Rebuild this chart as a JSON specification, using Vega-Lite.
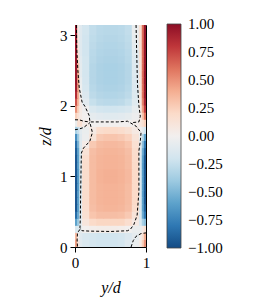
{
  "$schema": "https://vega.github.io/schema/vega-lite/v6.json",
  "autosize": "none",
  "width": 71,
  "height": 222,
  "padding": {"left": 75, "top": 25, "right": 115, "bottom": 52},
  "background": "white",
  "config": {
    "view": {"stroke": "black", "strokeWidth": 1},
    "font": "Liberation Serif",
    "axis": {"grid": false, "domain": false, "tickColor": "black", "tickSize": 5, "tickWidth": 1, "labelColor": "black", "labelFontSize": 15, "labelPadding": 3, "labelFlush": false, "titleColor": "black", "titleFontSize": 16, "titleFontStyle": "italic", "titleFontWeight": "normal", "labelAngle": 0},
    "legend": {"labelColor": "black", "labelFontSize": 15}
  },
  "datasets": {
    "field": [
      {"z0": 0, "z1": 0.1, "v": [0.45,0.1,-0.1,-0.15,-0.18,-0.2,-0.2,-0.2,-0.18,-0.12,-0.05,0.05,0.25,0.5], "y0": [0,0.03,0.06,0.1,0.2,0.3,0.4,0.5,0.6,0.7,0.8,0.9,0.94,0.97], "y1": [0.03,0.06,0.1,0.2,0.3,0.4,0.5,0.6,0.7,0.8,0.9,0.94,0.97,1]},
      {"z0": 0.1, "z1": 0.2, "v": [0.35,0.02,-0.12,-0.16,-0.18,-0.2,-0.2,-0.2,-0.18,-0.14,-0.08,0.02,0.15,0.4], "y0": [0,0.03,0.06,0.1,0.2,0.3,0.4,0.5,0.6,0.7,0.8,0.9,0.94,0.97], "y1": [0.03,0.06,0.1,0.2,0.3,0.4,0.5,0.6,0.7,0.8,0.9,0.94,0.97,1]},
      {"z0": 0.2, "z1": 0.3, "v": [-0.15,-0.15,-0.08,0,0.02,0.03,0.03,0.03,0.02,0,-0.05,-0.05,0.05,0.15], "y0": [0,0.03,0.06,0.1,0.2,0.3,0.4,0.5,0.6,0.7,0.8,0.9,0.94,0.97], "y1": [0.03,0.06,0.1,0.2,0.3,0.4,0.5,0.6,0.7,0.8,0.9,0.94,0.97,1]},
      {"z0": 0.3, "z1": 0.4, "v": [-0.6,-0.4,-0.1,0.1,0.2,0.22,0.22,0.22,0.22,0.17,0.06,-0.15,-0.35,-0.45], "y0": [0,0.03,0.06,0.1,0.2,0.3,0.4,0.5,0.6,0.7,0.8,0.9,0.94,0.97], "y1": [0.03,0.06,0.1,0.2,0.3,0.4,0.5,0.6,0.7,0.8,0.9,0.94,0.97,1]},
      {"z0": 0.4, "z1": 0.5, "v": [-0.85,-0.55,-0.15,0.15,0.3,0.33,0.33,0.33,0.32,0.28,0.12,-0.15,-0.55,-0.8], "y0": [0,0.03,0.06,0.1,0.2,0.3,0.4,0.5,0.6,0.7,0.8,0.9,0.94,0.97], "y1": [0.03,0.06,0.1,0.2,0.3,0.4,0.5,0.6,0.7,0.8,0.9,0.94,0.97,1]},
      {"z0": 0.5, "z1": 0.6, "v": [-0.95,-0.6,-0.15,0.17,0.33,0.36,0.37,0.37,0.36,0.33,0.18,-0.15,-0.6,-0.9], "y0": [0,0.03,0.06,0.1,0.2,0.3,0.4,0.5,0.6,0.7,0.8,0.9,0.94,0.97], "y1": [0.03,0.06,0.1,0.2,0.3,0.4,0.5,0.6,0.7,0.8,0.9,0.94,0.97,1]},
      {"z0": 0.6, "z1": 0.7, "v": [-0.95,-0.6,-0.15,0.18,0.34,0.37,0.38,0.38,0.37,0.34,0.2,-0.15,-0.6,-0.95], "y0": [0,0.03,0.06,0.1,0.2,0.3,0.4,0.5,0.6,0.7,0.8,0.9,0.94,0.97], "y1": [0.03,0.06,0.1,0.2,0.3,0.4,0.5,0.6,0.7,0.8,0.9,0.94,0.97,1]},
      {"z0": 0.7, "z1": 0.8, "v": [-0.95,-0.6,-0.15,0.18,0.34,0.37,0.38,0.38,0.37,0.34,0.2,-0.15,-0.62,-0.95], "y0": [0,0.03,0.06,0.1,0.2,0.3,0.4,0.5,0.6,0.7,0.8,0.9,0.94,0.97], "y1": [0.03,0.06,0.1,0.2,0.3,0.4,0.5,0.6,0.7,0.8,0.9,0.94,0.97,1]},
      {"z0": 0.8, "z1": 0.9, "v": [-0.95,-0.62,-0.15,0.18,0.34,0.37,0.38,0.38,0.37,0.34,0.2,-0.15,-0.62,-0.95], "y0": [0,0.03,0.06,0.1,0.2,0.3,0.4,0.5,0.6,0.7,0.8,0.9,0.94,0.97], "y1": [0.03,0.06,0.1,0.2,0.3,0.4,0.5,0.6,0.7,0.8,0.9,0.94,0.97,1]},
      {"z0": 0.9, "z1": 1.0, "v": [-0.95,-0.62,-0.15,0.18,0.34,0.38,0.39,0.39,0.38,0.35,0.2,-0.15,-0.62,-0.95], "y0": [0,0.03,0.06,0.1,0.2,0.3,0.4,0.5,0.6,0.7,0.8,0.9,0.94,0.97], "y1": [0.03,0.06,0.1,0.2,0.3,0.4,0.5,0.6,0.7,0.8,0.9,0.94,0.97,1]},
      {"z0": 1.0, "z1": 1.1, "v": [-0.95,-0.62,-0.15,0.18,0.34,0.38,0.39,0.39,0.38,0.35,0.2,-0.15,-0.62,-0.95], "y0": [0,0.03,0.06,0.1,0.2,0.3,0.4,0.5,0.6,0.7,0.8,0.9,0.94,0.97], "y1": [0.03,0.06,0.1,0.2,0.3,0.4,0.5,0.6,0.7,0.8,0.9,0.94,0.97,1]},
      {"z0": 1.1, "z1": 1.2, "v": [-0.95,-0.6,-0.15,0.18,0.34,0.37,0.38,0.38,0.37,0.34,0.2,-0.15,-0.62,-0.95], "y0": [0,0.03,0.06,0.1,0.2,0.3,0.4,0.5,0.6,0.7,0.8,0.9,0.94,0.97], "y1": [0.03,0.06,0.1,0.2,0.3,0.4,0.5,0.6,0.7,0.8,0.9,0.94,0.97,1]},
      {"z0": 1.2, "z1": 1.3, "v": [-0.95,-0.6,-0.15,0.17,0.34,0.37,0.38,0.38,0.37,0.34,0.19,-0.15,-0.6,-0.95], "y0": [0,0.03,0.06,0.1,0.2,0.3,0.4,0.5,0.6,0.7,0.8,0.9,0.94,0.97], "y1": [0.03,0.06,0.1,0.2,0.3,0.4,0.5,0.6,0.7,0.8,0.9,0.94,0.97,1]},
      {"z0": 1.3, "z1": 1.4, "v": [-0.92,-0.58,-0.15,0.13,0.33,0.36,0.37,0.37,0.36,0.33,0.18,-0.12,-0.55,-0.9], "y0": [0,0.03,0.06,0.1,0.2,0.3,0.4,0.5,0.6,0.7,0.8,0.9,0.94,0.97], "y1": [0.03,0.06,0.1,0.2,0.3,0.4,0.5,0.6,0.7,0.8,0.9,0.94,0.97,1]},
      {"z0": 1.4, "z1": 1.5, "v": [-0.85,-0.5,-0.12,0.04,0.28,0.34,0.35,0.35,0.34,0.3,0.15,-0.08,-0.45,-0.8], "y0": [0,0.03,0.06,0.1,0.2,0.3,0.4,0.5,0.6,0.7,0.8,0.9,0.94,0.97], "y1": [0.03,0.06,0.1,0.2,0.3,0.4,0.5,0.6,0.7,0.8,0.9,0.94,0.97,1]},
      {"z0": 1.5, "z1": 1.6, "v": [-0.7,-0.4,-0.12,-0.04,0.12,0.28,0.3,0.3,0.28,0.24,0.12,-0.03,-0.3,-0.6], "y0": [0,0.03,0.06,0.1,0.2,0.3,0.4,0.5,0.6,0.7,0.8,0.9,0.94,0.97], "y1": [0.03,0.06,0.1,0.2,0.3,0.4,0.5,0.6,0.7,0.8,0.9,0.94,0.97,1]},
      {"z0": 1.6, "z1": 1.7, "v": [-0.35,-0.25,-0.1,-0.05,0.06,0.18,0.2,0.2,0.18,0.14,0.06,0,-0.08,-0.2], "y0": [0,0.03,0.06,0.1,0.2,0.3,0.4,0.5,0.6,0.7,0.8,0.9,0.94,0.97], "y1": [0.03,0.06,0.1,0.2,0.3,0.4,0.5,0.6,0.7,0.8,0.9,0.94,0.97,1]},
      {"z0": 1.7, "z1": 1.8, "v": [-0.05,0.15,0.15,0.04,0,0,0,0,0,0,0.02,0.08,0.15,0.25], "y0": [0,0.03,0.06,0.1,0.2,0.3,0.4,0.5,0.6,0.7,0.8,0.9,0.94,0.97], "y1": [0.03,0.06,0.1,0.2,0.3,0.4,0.5,0.6,0.7,0.8,0.9,0.94,0.97,1]},
      {"z0": 1.8, "z1": 1.9, "v": [0.25,0.15,0.05,0,-0.08,-0.1,-0.11,-0.11,-0.1,-0.08,-0.04,0.05,0.3,0.6], "y0": [0,0.03,0.06,0.1,0.2,0.3,0.4,0.5,0.6,0.7,0.8,0.9,0.94,0.97], "y1": [0.03,0.06,0.1,0.2,0.3,0.4,0.5,0.6,0.7,0.8,0.9,0.94,0.97,1]},
      {"z0": 1.9, "z1": 2.0, "v": [0.5,0.25,0.06,-0.02,-0.15,-0.19,-0.2,-0.2,-0.19,-0.16,-0.07,0.08,0.45,0.8], "y0": [0,0.03,0.06,0.1,0.2,0.3,0.4,0.5,0.6,0.7,0.8,0.9,0.94,0.97], "y1": [0.03,0.06,0.1,0.2,0.3,0.4,0.5,0.6,0.7,0.8,0.9,0.94,0.97,1]},
      {"z0": 2.0, "z1": 2.1, "v": [0.7,0.35,0.04,-0.1,-0.24,-0.28,-0.29,-0.29,-0.28,-0.24,-0.11,0.1,0.55,0.9], "y0": [0,0.03,0.06,0.1,0.2,0.3,0.4,0.5,0.6,0.7,0.8,0.9,0.94,0.97], "y1": [0.03,0.06,0.1,0.2,0.3,0.4,0.5,0.6,0.7,0.8,0.9,0.94,0.97,1]},
      {"z0": 2.1, "z1": 2.2, "v": [0.85,0.4,0,-0.14,-0.28,-0.31,-0.32,-0.32,-0.31,-0.28,-0.13,0.12,0.6,0.95], "y0": [0,0.03,0.06,0.1,0.2,0.3,0.4,0.5,0.6,0.7,0.8,0.9,0.94,0.97], "y1": [0.03,0.06,0.1,0.2,0.3,0.4,0.5,0.6,0.7,0.8,0.9,0.94,0.97,1]},
      {"z0": 2.2, "z1": 2.3, "v": [0.92,0.45,-0.03,-0.17,-0.3,-0.33,-0.34,-0.34,-0.33,-0.3,-0.14,0.12,0.6,0.95], "y0": [0,0.03,0.06,0.1,0.2,0.3,0.4,0.5,0.6,0.7,0.8,0.9,0.94,0.97], "y1": [0.03,0.06,0.1,0.2,0.3,0.4,0.5,0.6,0.7,0.8,0.9,0.94,0.97,1]},
      {"z0": 2.3, "z1": 2.4, "v": [0.95,0.45,-0.05,-0.18,-0.31,-0.34,-0.35,-0.35,-0.34,-0.31,-0.14,0.12,0.62,0.97], "y0": [0,0.03,0.06,0.1,0.2,0.3,0.4,0.5,0.6,0.7,0.8,0.9,0.94,0.97], "y1": [0.03,0.06,0.1,0.2,0.3,0.4,0.5,0.6,0.7,0.8,0.9,0.94,0.97,1]},
      {"z0": 2.4, "z1": 2.5, "v": [0.95,0.4,-0.08,-0.19,-0.31,-0.34,-0.35,-0.35,-0.34,-0.31,-0.13,0.13,0.62,0.97], "y0": [0,0.03,0.06,0.1,0.2,0.3,0.4,0.5,0.6,0.7,0.8,0.9,0.94,0.97], "y1": [0.03,0.06,0.1,0.2,0.3,0.4,0.5,0.6,0.7,0.8,0.9,0.94,0.97,1]},
      {"z0": 2.5, "z1": 2.6, "v": [0.95,0.3,-0.09,-0.19,-0.31,-0.34,-0.35,-0.35,-0.34,-0.31,-0.13,0.13,0.62,0.97], "y0": [0,0.03,0.06,0.1,0.2,0.3,0.4,0.5,0.6,0.7,0.8,0.9,0.94,0.97], "y1": [0.03,0.06,0.1,0.2,0.3,0.4,0.5,0.6,0.7,0.8,0.9,0.94,0.97,1]},
      {"z0": 2.6, "z1": 2.7, "v": [0.95,0.2,-0.1,-0.19,-0.3,-0.33,-0.34,-0.34,-0.33,-0.3,-0.13,0.13,0.62,0.97], "y0": [0,0.03,0.06,0.1,0.2,0.3,0.4,0.5,0.6,0.7,0.8,0.9,0.94,0.97], "y1": [0.03,0.06,0.1,0.2,0.3,0.4,0.5,0.6,0.7,0.8,0.9,0.94,0.97,1]},
      {"z0": 2.7, "z1": 2.8, "v": [0.95,0.12,-0.12,-0.2,-0.29,-0.32,-0.33,-0.33,-0.32,-0.29,-0.11,0.14,0.62,0.97], "y0": [0,0.03,0.06,0.1,0.2,0.3,0.4,0.5,0.6,0.7,0.8,0.9,0.94,0.97], "y1": [0.03,0.06,0.1,0.2,0.3,0.4,0.5,0.6,0.7,0.8,0.9,0.94,0.97,1]},
      {"z0": 2.8, "z1": 2.9, "v": [0.95,0.1,-0.12,-0.2,-0.28,-0.31,-0.32,-0.32,-0.31,-0.28,-0.09,0.15,0.62,0.97], "y0": [0,0.03,0.06,0.1,0.2,0.3,0.4,0.5,0.6,0.7,0.8,0.9,0.94,0.97], "y1": [0.03,0.06,0.1,0.2,0.3,0.4,0.5,0.6,0.7,0.8,0.9,0.94,0.97,1]},
      {"z0": 2.9, "z1": 3.0, "v": [0.95,0.08,-0.12,-0.2,-0.27,-0.3,-0.31,-0.31,-0.3,-0.27,-0.07,0.15,0.62,0.97], "y0": [0,0.03,0.06,0.1,0.2,0.3,0.4,0.5,0.6,0.7,0.8,0.9,0.94,0.97], "y1": [0.03,0.06,0.1,0.2,0.3,0.4,0.5,0.6,0.7,0.8,0.9,0.94,0.97,1]},
      {"z0": 3.0, "z1": 3.1, "v": [0.95,0.06,-0.12,-0.19,-0.26,-0.29,-0.3,-0.3,-0.29,-0.26,-0.05,0.15,0.62,0.97], "y0": [0,0.03,0.06,0.1,0.2,0.3,0.4,0.5,0.6,0.7,0.8,0.9,0.94,0.97], "y1": [0.03,0.06,0.1,0.2,0.3,0.4,0.5,0.6,0.7,0.8,0.9,0.94,0.97,1]},
      {"z0": 3.1, "z1": 3.1416, "v": [0.95,0.05,-0.12,-0.19,-0.26,-0.29,-0.3,-0.3,-0.29,-0.26,-0.05,0.15,0.62,0.97], "y0": [0,0.03,0.06,0.1,0.2,0.3,0.4,0.5,0.6,0.7,0.8,0.9,0.94,0.97], "y1": [0.03,0.06,0.1,0.2,0.3,0.4,0.5,0.6,0.7,0.8,0.9,0.94,0.97,1]}
    ],
    "contours": [
      {"s": "a", "i": 0, "y": 0.02, "z": 3.1416},
      {"s": "a", "i": 1, "y": 0.025, "z": 2.8},
      {"s": "a", "i": 2, "y": 0.04, "z": 2.5},
      {"s": "a", "i": 3, "y": 0.06, "z": 2.25},
      {"s": "a", "i": 4, "y": 0.1, "z": 2.05},
      {"s": "a", "i": 5, "y": 0.14, "z": 1.99},
      {"s": "a", "i": 6, "y": 0.2, "z": 1.86},
      {"s": "a", "i": 7, "y": 0.21, "z": 1.77},
      {"s": "a", "i": 8, "y": 0.4, "z": 1.77},
      {"s": "a", "i": 9, "y": 0.6, "z": 1.77},
      {"s": "a", "i": 10, "y": 0.74, "z": 1.78},
      {"s": "a", "i": 11, "y": 0.86, "z": 1.71},
      {"s": "a", "i": 12, "y": 0.93, "z": 1.62},
      {"s": "a", "i": 13, "y": 0.92, "z": 1.5},
      {"s": "a", "i": 14, "y": 0.9, "z": 1.36},
      {"s": "a", "i": 15, "y": 0.9, "z": 1.0},
      {"s": "a", "i": 16, "y": 0.9, "z": 0.78},
      {"s": "a", "i": 17, "y": 0.875, "z": 0.45},
      {"s": "a", "i": 18, "y": 0.83, "z": 0.32},
      {"s": "a", "i": 19, "y": 0.78, "z": 0.25},
      {"s": "a", "i": 20, "y": 0.74, "z": 0.23},
      {"s": "a", "i": 21, "y": 0.5, "z": 0.22},
      {"s": "a", "i": 22, "y": 0.2, "z": 0.225},
      {"s": "a", "i": 23, "y": 0.1, "z": 0.23},
      {"s": "a", "i": 24, "y": 0.07, "z": 0.27},
      {"s": "a", "i": 25, "y": 0.075, "z": 0.4},
      {"s": "a", "i": 26, "y": 0.08, "z": 0.8},
      {"s": "a", "i": 27, "y": 0.085, "z": 1.1},
      {"s": "a", "i": 28, "y": 0.09, "z": 1.33},
      {"s": "a", "i": 29, "y": 0.12, "z": 1.4},
      {"s": "a", "i": 30, "y": 0.21, "z": 1.5},
      {"s": "a", "i": 31, "y": 0.245, "z": 1.62},
      {"s": "a", "i": 32, "y": 0.21, "z": 1.76},
      {"s": "b", "i": 0, "y": 0.86, "z": 3.1416},
      {"s": "b", "i": 1, "y": 0.87, "z": 2.7},
      {"s": "b", "i": 2, "y": 0.88, "z": 2.3},
      {"s": "b", "i": 3, "y": 0.9, "z": 2.0},
      {"s": "b", "i": 4, "y": 0.92, "z": 1.85},
      {"s": "b", "i": 5, "y": 0.9, "z": 1.77},
      {"s": "b", "i": 6, "y": 0.8, "z": 1.76},
      {"s": "c", "i": 0, "y": 0.0, "z": 1.8},
      {"s": "c", "i": 1, "y": 0.06, "z": 1.8},
      {"s": "c", "i": 2, "y": 0.12, "z": 1.78},
      {"s": "c", "i": 3, "y": 0.21, "z": 1.77},
      {"s": "d", "i": 0, "y": 0.0, "z": 1.66},
      {"s": "d", "i": 1, "y": 0.06, "z": 1.67},
      {"s": "d", "i": 2, "y": 0.12, "z": 1.69},
      {"s": "d", "i": 3, "y": 0.21, "z": 1.76},
      {"s": "e", "i": 0, "y": 0.07, "z": 0.25},
      {"s": "e", "i": 1, "y": 0.035, "z": 0.2},
      {"s": "e", "i": 2, "y": 0.03, "z": 0.1},
      {"s": "e", "i": 3, "y": 0.035, "z": 0.0},
      {"s": "f", "i": 0, "y": 0.79, "z": 0.0},
      {"s": "f", "i": 1, "y": 0.82, "z": 0.09},
      {"s": "f", "i": 2, "y": 0.86, "z": 0.15},
      {"s": "f", "i": 3, "y": 0.93, "z": 0.19},
      {"s": "f", "i": 4, "y": 1.0, "z": 0.2}
    ]
  },
  "layer": [
    {
      "data": {"name": "field"},
      "transform": [{"flatten": ["v", "y0", "y1"]}],
      "mark": {"type": "rect", "x2Offset": 0.7, "y2Offset": -0.7, "clip": true},
      "encoding": {
        "x": {"field": "y0", "type": "quantitative", "scale": {"domain": [0, 1], "nice": false, "zero": false}, "axis": {"values": [0, 1], "format": "d", "title": "y/d", "titlePadding": 9}},
        "x2": {"field": "y1"},
        "y": {"field": "z0", "type": "quantitative", "scale": {"domain": [0, 3.1416], "nice": false, "zero": false}, "axis": {"values": [0, 1, 2, 3], "format": "d", "title": "z/d", "titlePadding": 6}},
        "y2": {"field": "z1"},
        "color": {"field": "v", "type": "quantitative", "scale": {"scheme": "redblue", "reverse": true, "domain": [-1, 1]},
          "legend": {"type": "gradient", "orient": "none", "legendX": 92, "legendY": -1, "direction": "vertical", "gradientLength": 224, "gradientThickness": 14, "values": [-1, -0.75, -0.5, -0.25, 0, 0.25, 0.5, 0.75, 1], "format": ".2f", "labelOffset": 7, "labelOverlap": false, "labelBaseline": "middle", "title": null, "gradientStrokeColor": "#444", "gradientStrokeWidth": 0.8, "encode": {"labels": {"update": {"baseline": {"value": "middle"}}}}}}
      }
    },
    {
      "data": {"name": "contours"},
      "mark": {"type": "line", "color": "black", "strokeDash": [3, 2], "strokeWidth": 1},
      "encoding": {
        "x": {"field": "y", "type": "quantitative", "axis": {"values": [0, 1], "format": "d", "title": "y/d", "titlePadding": 9}},
        "y": {"field": "z", "type": "quantitative", "axis": {"values": [0, 1, 2, 3], "format": "d", "title": "z/d", "titlePadding": 6}},
        "detail": {"field": "s"},
        "order": {"field": "i", "type": "quantitative"}
      }
    }
  ]
}
